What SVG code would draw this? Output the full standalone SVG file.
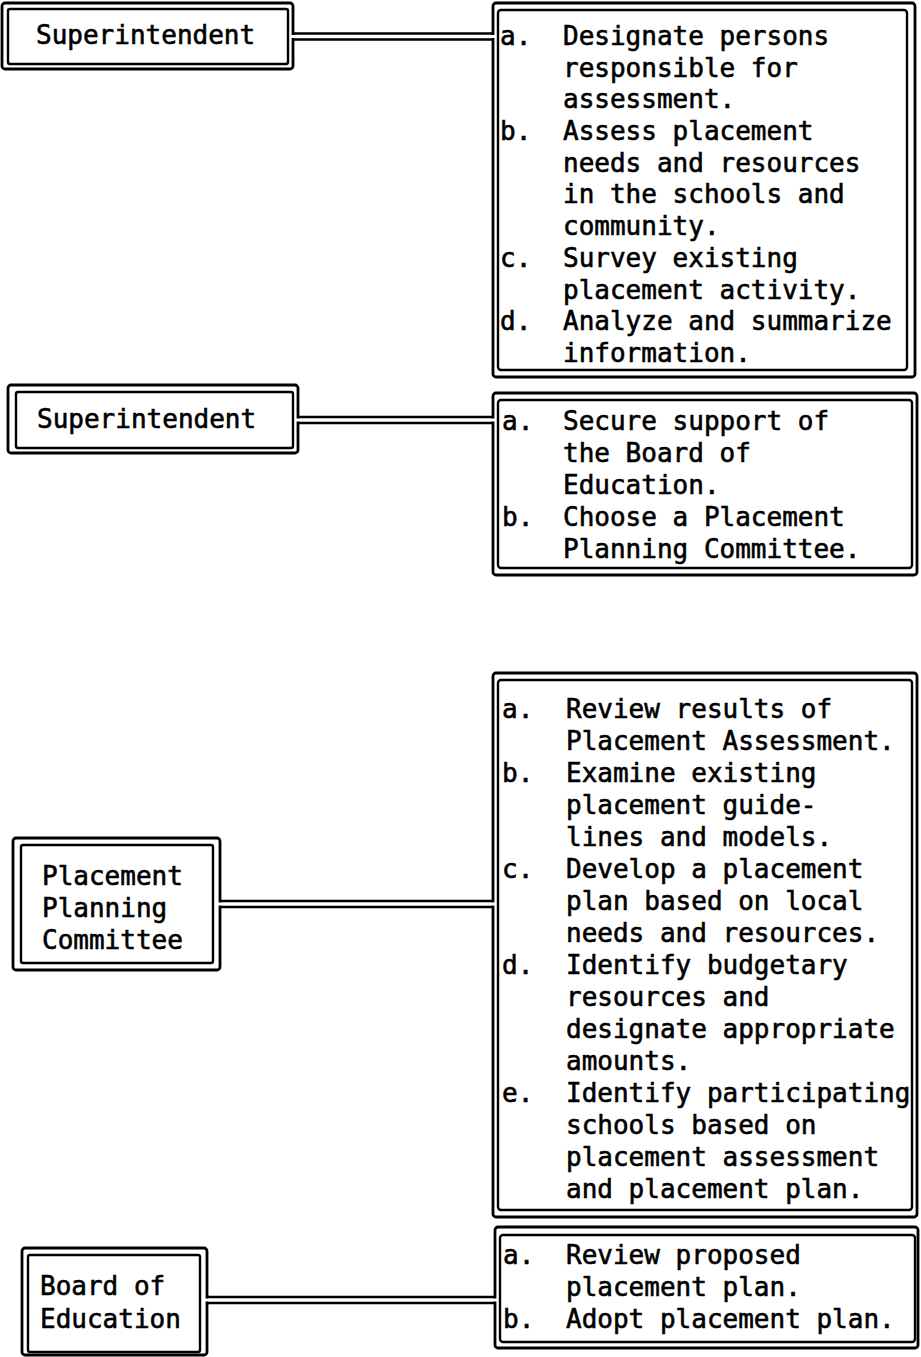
<svg xmlns="http://www.w3.org/2000/svg" width="921" height="1357" viewBox="0 0 921 1357">
<style>
.o{fill:none;stroke:#000;stroke-width:2.8}
.i{fill:none;stroke:#000;stroke-width:2.4}
.c{stroke:#000;stroke-width:2.6;fill:none}
.g{fill:#fff;stroke:none}
.t{font-family:"DejaVu Sans Mono","Liberation Mono",monospace;font-size:26px;fill:#000;stroke:#000;stroke-width:0.6}
</style>
<rect width="921" height="1357" fill="#fff"/>
<g id="n1">
<rect class="o" x="2" y="3" width="291" height="66" rx="3"/>
<rect class="i" x="8" y="9" width="280" height="55" rx="2"/>
<text class="t" x="36" y="44">Superintendent</text>
</g>
<g id="r1">
<rect class="o" x="493" y="3" width="422" height="374" rx="3"/>
<rect class="i" x="498" y="10" width="409" height="360" rx="3"/>
<g class="t">
<text x="500" y="45">a.</text><text x="563" y="45">Designate persons</text>
<text x="563" y="77">responsible for</text>
<text x="563" y="108">assessment.</text>
<text x="500" y="140">b.</text><text x="563" y="140">Assess placement</text>
<text x="563" y="172">needs and resources</text>
<text x="563" y="203">in the schools and</text>
<text x="563" y="235">community.</text>
<text x="500" y="267">c.</text><text x="563" y="267">Survey existing</text>
<text x="563" y="299">placement activity.</text>
<text x="500" y="330">d.</text><text x="563" y="330">Analyze and summarize</text>
<text x="563" y="362">information.</text>
</g>
</g>
<g id="n2">
<rect class="o" x="8" y="385" width="290" height="68" rx="3"/>
<rect class="i" x="16" y="392" width="277" height="56" rx="2"/>
<text class="t" x="37" y="428">Superintendent</text>
</g>
<g id="r2">
<rect class="o" x="493" y="393" width="424" height="182" rx="3"/>
<rect class="i" x="498" y="400" width="414" height="168" rx="3"/>
<g class="t">
<text x="502" y="430">a.</text><text x="563" y="430">Secure support of</text>
<text x="563" y="462">the Board of</text>
<text x="563" y="494">Education.</text>
<text x="502" y="526">b.</text><text x="563" y="526">Choose a Placement</text>
<text x="563" y="558">Planning Committee.</text>
</g>
</g>
<g id="n3">
<rect class="o" x="13" y="838" width="207" height="132" rx="3"/>
<rect class="i" x="21" y="845" width="192" height="118" rx="2"/>
<g class="t">
<text x="42" y="885">Placement</text>
<text x="42" y="917">Planning</text>
<text x="42" y="949">Committee</text>
</g>
</g>
<g id="r3">
<rect class="o" x="493" y="673" width="424" height="544" rx="3"/>
<rect class="i" x="498" y="680" width="414" height="530" rx="3"/>
<g class="t">
<text x="502" y="718">a.</text><text x="566" y="718">Review results of</text>
<text x="566" y="750">Placement Assessment.</text>
<text x="502" y="782">b.</text><text x="566" y="782">Examine existing</text>
<text x="566" y="814">placement guide-</text>
<text x="566" y="846">lines and models.</text>
<text x="502" y="878">c.</text><text x="566" y="878">Develop a placement</text>
<text x="566" y="910">plan based on local</text>
<text x="566" y="942">needs and resources.</text>
<text x="502" y="974">d.</text><text x="566" y="974">Identify budgetary</text>
<text x="566" y="1006">resources and</text>
<text x="566" y="1038">designate appropriate</text>
<text x="566" y="1070">amounts.</text>
<text x="502" y="1102">e.</text><text x="566" y="1102">Identify participating</text>
<text x="566" y="1134">schools based on</text>
<text x="566" y="1166">placement assessment</text>
<text x="566" y="1198">and placement plan.</text>
</g>
</g>
<g id="n4">
<rect class="o" x="22" y="1248" width="185" height="107" rx="3"/>
<rect class="i" x="28" y="1255" width="172" height="97" rx="2"/>
<g class="t">
<text x="40" y="1295">Board of</text>
<text x="40" y="1328">Education</text>
</g>
</g>
<g id="r4">
<rect class="o" x="495" y="1227" width="423" height="121" rx="3"/>
<rect class="i" x="500" y="1235" width="415" height="107" rx="3"/>
<g class="t">
<text x="503" y="1264">a.</text><text x="566" y="1264">Review proposed</text>
<text x="566" y="1296">placement plan.</text>
<text x="503" y="1328">b.</text><text x="566" y="1328">Adopt placement plan.</text>
</g>
</g>
<g id="connectors">
<rect class="g" x="290" y="35" width="6" height="3"/>
<rect class="g" x="490" y="35" width="6" height="3"/>
<path class="c" d="M293 33.5H493M293 39.5H493"/>
<rect class="g" x="295" y="418.5" width="6" height="3"/>
<rect class="g" x="490" y="418.5" width="6" height="3"/>
<path class="c" d="M298 417H493M298 423H493"/>
<rect class="g" x="217" y="902.5" width="6" height="3"/>
<rect class="g" x="490" y="902.5" width="6" height="3"/>
<path class="c" d="M220 901H493M220 907H493"/>
<rect class="g" x="204" y="1298.5" width="6" height="3"/>
<rect class="g" x="492" y="1298.5" width="6" height="3"/>
<path class="c" d="M207 1297H495M207 1303H495"/>
</g>
</svg>
